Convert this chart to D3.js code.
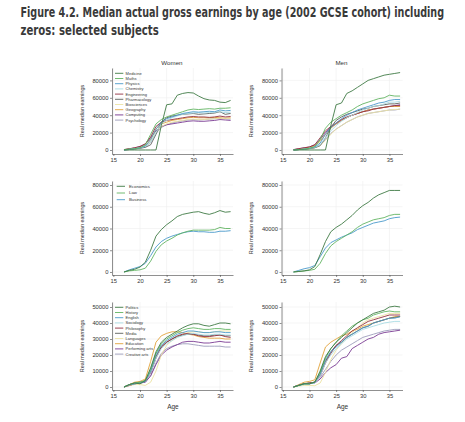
<!DOCTYPE html>
<html>
<head>
<meta charset="utf-8">
<script src="https://cdn.jsdelivr.net/npm/d3@7"></script>
<style>
  body { margin: 0; background: #fff; }
  text { font-family: "Liberation Sans", Arial, sans-serif; fill: #333; }
</style>
</head>
<body>
<div id="chart"></div>
<script>
// ages on the x axis
var ages = [17,18,19,20,21,22,23,24,25,26,27,28,29,30,31,32,33,34,35,36,37];

// row 1: STEM / sciences
var subjectsTop = ["Medicine","Maths","Physics","Chemistry","Engineering","Pharmacology","Biosciences","Geography","Computing","Psychology"];
var womenTop = [
  [0,0,0,0,0,0,0,28000,52000,53000,63000,65000,66000,65500,62000,59000,57500,57000,55000,54500,57000],
  [500,1000,1500,2500,6000,18000,30000,35000,38000,40000,42000,44000,46000,47000,46500,47000,47500,47000,48000,48000,48500],
  [0,800,1500,2500,4500,12000,24000,32000,36000,38000,40000,42000,43000,44000,43500,44000,44500,44000,46000,45000,45500],
  [0,700,1500,2500,4000,9000,20000,30000,34000,37000,39000,41000,42000,42500,43000,42500,43000,43500,44000,43000,43500],
  [500,1500,2500,4000,7000,15000,27000,32000,34000,35000,36000,37000,38000,38500,38000,38000,37500,38000,39000,38000,38500],
  [0,500,1200,2000,3000,6000,18000,32000,37000,39000,40000,41000,41500,42000,41000,41500,42000,42500,44000,41000,42000],
  [0,800,1500,2500,4000,10000,20000,27000,30000,32000,33000,34000,35000,35500,35000,35000,35500,36000,36500,36000,36500],
  [300,1000,2000,3000,5000,12000,24000,30000,32000,34000,35000,36000,37000,37500,37000,37000,37000,37500,37000,36500,37000],
  [300,1200,2500,4000,7000,14000,22000,27000,29000,30000,31000,32000,33000,33500,33000,33000,33500,34000,35000,34500,34000],
  [0,600,1200,2000,3500,9000,19000,26000,29000,31000,32500,33500,34500,35000,34500,35000,35500,36000,36500,36000,35500]
];
var menTop = [
  [0,0,0,0,0,0,0,28000,52000,54000,65000,68000,72000,76000,80000,82000,84000,86000,87000,88000,89000],
  [0,500,1000,2000,4000,12000,25000,32000,36000,40000,43000,46000,50000,53000,55000,57000,59000,60000,63000,62000,62000],
  [0,500,1000,2000,3500,8000,18000,26000,31000,36000,40000,43000,46000,48000,50000,52000,54000,55000,57000,58000,58000],
  [0,500,1000,2000,3000,6000,14000,22000,28000,33000,37000,40000,43000,46000,48000,50000,51000,53000,55000,55000,56000],
  [500,1500,2500,3500,6000,14000,22000,27000,31000,35000,38000,40000,42000,44000,45000,47000,48000,49000,50000,51000,51000],
  [0,500,1000,1500,2500,5000,14000,26000,34000,38000,41000,43000,45000,47000,48000,50000,51000,52000,53000,53000,54000],
  [0,500,1000,1500,2500,5000,11000,18000,24000,28000,32000,35000,38000,40000,42000,43000,44000,45000,46000,46500,47000],
  [300,1000,2000,3000,5000,10000,18000,25000,30000,34000,37000,40000,42000,44000,46000,47000,48000,49000,50000,50000,50000],
  [300,1500,2500,3500,6000,12000,20000,26000,30000,34000,37000,40000,42000,44000,46000,47000,48000,49000,50000,51000,52000],
  [0,500,1000,1800,3000,6000,12000,19000,24000,28000,32000,35000,38000,40000,42000,43000,44000,45000,46000,46000,47000]
];

// row 2: economics, law, business
var subjectsMid = ["Economics","Law","Business"];
var womenMid = [
  [0,1500,2500,4500,9000,20000,33000,39000,43500,47000,51000,53000,54000,55000,55500,54000,53000,54500,56500,55000,55500],
  [0,1000,1500,2000,3500,10000,19000,25000,28500,31000,34000,36000,37500,38500,38500,38500,38500,39000,41000,40000,40000],
  [0,2000,3500,5000,8000,15000,23000,28000,31000,33000,34500,36000,37000,37500,37000,37000,36500,36500,37500,37500,38000]
];
var menMid = [
  [0,500,1000,2000,5000,16000,28000,37000,41000,44000,48000,52000,57000,61000,64000,68000,71000,73000,75000,75000,75000],
  [0,500,1000,1500,2500,8000,17000,24000,28000,31000,34000,37000,41000,44000,46000,48000,49000,50000,52000,53000,53000],
  [0,1500,3000,4000,6000,14000,22000,27000,29500,32000,34000,36000,39000,41000,43000,45000,46000,47000,49000,50000,50500]
];

// row 3: humanities, social sciences, arts
var subjectsLow = ["Politics","History","English","Sociology","Philosophy","Media","Languages","Education","Performing arts","Creative arts"];
var womenLow = [
  [0,1500,2500,2000,4000,12000,22000,28000,31000,33000,35000,37000,38500,39500,39500,38500,38000,39000,40000,40000,39500],
  [0,1500,2500,3000,4000,11000,21000,27000,30000,32000,34000,35500,36500,37000,36500,36000,36000,36500,36500,36000,36000],
  [0,1500,2000,2500,3500,10000,20000,26000,29000,31000,33000,34000,35000,35000,34500,34000,34000,34500,34500,34000,34000],
  [0,1200,2000,2500,3500,9000,18000,24000,27000,29000,31000,32000,33000,33500,33000,32500,32500,33000,33000,32500,32500],
  [0,1000,2000,2500,3500,9000,18000,25000,28000,30000,32000,33000,33500,33000,32000,31500,31500,32000,32500,31500,31000],
  [0,1500,2500,3000,4000,9000,19000,25000,28000,30000,31500,32500,33000,33000,32500,32000,32000,32500,32500,32000,32000],
  [0,800,1500,1500,1000,3000,10000,20000,26000,29000,31000,33000,34000,34500,34500,34000,34000,34500,35000,35000,35000],
  [0,1500,3000,3500,5000,16000,28000,32000,33500,34500,34500,34000,33000,32500,31500,31000,30500,30500,30500,30000,30000],
  [0,1000,2000,2500,3000,7000,14000,20000,23000,25000,26500,28000,28500,28500,28000,27500,27500,28000,28500,28000,28000],
  [0,1000,2000,2500,3000,7000,15000,21000,24000,25500,26500,27000,27000,26500,26000,25500,25500,25500,25500,25000,25000]
];
var menLow = [
  [0,1000,2000,2000,3000,10000,19000,24000,28000,31000,34000,37000,40000,42000,44000,46000,47000,48000,50000,50500,50000],
  [0,1000,2000,2000,3000,9000,18000,24000,28000,32000,35000,38000,40000,42000,43000,45000,46000,47000,47500,47000,47000],
  [0,1000,2000,2000,3000,8000,17000,22000,25000,28000,31000,33000,35000,37000,38000,40000,41000,42000,43000,43000,44000],
  [0,800,1500,2000,2500,7000,15000,20000,24000,27000,30000,32000,34000,36000,37000,38000,39000,40000,40500,41000,41000],
  [0,1000,2000,2500,3000,7000,15000,21000,26000,29000,32000,35000,37000,39000,41000,42000,43000,44000,45000,45000,45000],
  [0,1200,2000,2500,3000,8000,16000,22000,26000,28000,31000,33000,35000,37000,38000,40000,41000,42000,43000,43500,44000],
  [0,500,1000,1000,800,2500,9000,17000,23000,27000,31000,34000,37000,40000,42000,43000,44000,45000,46000,46000,46000],
  [0,1500,3000,3500,4500,15000,25000,28000,30000,32000,33000,35000,36000,38000,39000,40000,41000,42000,43000,44000,44000],
  [0,1000,2000,2000,2500,5000,9000,12000,14000,18000,19000,24000,26000,28000,30000,31000,33000,34000,34500,35000,35500],
  [0,1000,2000,2500,3000,6000,11000,16000,20000,23000,25000,27000,29000,31000,32000,33000,34000,35000,35500,36000,36000]
];

var xTicks = [15,20,25,30,35];
var yTicksBig = [0,20000,40000,60000,80000];
var yTicksSmall = [0,10000,20000,30000,40000,50000];

var palette = ["#3f7a45","#62b462","#4b9acb","#a9dbe3","#93303f","#5b5f5b","#ece3a4","#e2a33b","#7a3b93","#9c9cba"];

var width = 465, height = 422;
var svg = d3.select("#chart").append("svg")
    .attr("width", width).attr("height", height);

// title: condensed bold, squeezed to the width seen in the reference
var titleLines = [
  {text: "Figure 4.2. Median actual gross earnings by age (2002 GCSE cohort) including", y: 16.5, w: 424},
  {text: "zeros: selected subjects", y: 34.5, w: 138.5}
];
titleLines.forEach(function(t) {
  var g = svg.append("g");
  var txt = g.append("text").attr("x", 0).attr("y", 0)
    .style("font-family", "'Liberation Sans Narrow','DejaVu Sans Condensed',Roboto,sans-serif")
    .style("font-weight", "bold").style("font-size", "13.5px").style("fill", "#3a3a3a")
    .text(t.text);
  var natural = txt.node().getComputedTextLength();
  g.attr("transform", "translate(20.5," + t.y + ") scale(" + (t.w / natural) + ",1)");
});

// panel layout
var cols = [{x0: 112, x1: 233}, {x0: 281.5, x1: 402.5}];
var rows = [
  {top: 68,  bottom: 154, domain: [-4600, 94250], ticks: yTicksBig,   names: subjectsTop, data: [womenTop, menTop]},
  {top: 181, bottom: 275, domain: [-2760, 83680], ticks: yTicksBig,   names: subjectsMid, data: [womenMid, menMid]},
  {top: 302, bottom: 390, domain: [-1875, 53125], ticks: yTicksSmall, names: subjectsLow, data: [womenLow, menLow]}
];

rows.forEach(function(row, ri) {
  cols.forEach(function(col, ci) {
    var x = d3.scaleLinear().domain([14.75, 37.45]).range([col.x0, col.x1]);
    var y = d3.scaleLinear().domain(row.domain).range([row.bottom, row.top]);
    var g = svg.append("g");

    // faint grid
    g.append("g").selectAll("line").data(row.ticks).enter().append("line")
      .attr("x1", col.x0).attr("x2", col.x1)
      .attr("y1", function(d){ return y(d); }).attr("y2", function(d){ return y(d); })
      .attr("stroke", "#eeeeee").attr("stroke-width", 0.6);
    g.append("g").selectAll("line").data(xTicks).enter().append("line")
      .attr("x1", function(d){ return x(d); }).attr("x2", function(d){ return x(d); })
      .attr("y1", row.top).attr("y2", row.bottom)
      .attr("stroke", "#eeeeee").attr("stroke-width", 0.6);

    // axes
    var yAxis = g.append("g").attr("transform", "translate(" + col.x0 + ",0)")
      .call(d3.axisLeft(y).tickValues(row.ticks).tickSize(2).tickSizeOuter(0).tickPadding(1.5).tickFormat(d3.format("d")));
    var xAxis = g.append("g").attr("transform", "translate(0," + row.bottom + ")")
      .call(d3.axisBottom(x).tickValues(xTicks).tickSize(2).tickSizeOuter(0).tickPadding(1.5));
    [yAxis, xAxis].forEach(function(a) {
      a.selectAll("path,line").attr("stroke", "#444").attr("stroke-width", 0.6);
      a.selectAll("text").style("font-size", "5.8px").style("fill", "#333")
        .style("font-family", "'Liberation Sans',Arial,sans-serif");
    });

    // y title
    g.append("text")
      .attr("transform", "translate(" + (col.x0 - 28.5) + "," + ((row.top + row.bottom) / 2) + ") rotate(-90)")
      .attr("text-anchor", "middle").style("font-size", "5.4px")
      .text("Real median earnings");

    // lines
    var line = d3.line()
      .x(function(d, i){ return x(ages[i]); })
      .y(function(d){ return y(d); });
    var series = row.data[ci];
    g.append("g").selectAll("path").data(series.slice().reverse()).enter().append("path")
      .attr("d", line)
      .attr("fill", "none")
      .attr("stroke", function(d, i){ return palette[series.length - 1 - i]; })
      .attr("stroke-width", 0.9);

    // legend only in women panels
    if (ci === 0) {
      var step = row.names.length > 3 ? 5.2 : 6.7;
      var lx = ri === 1 ? 116.7 : 115;
      var leg = g.append("g").selectAll("g").data(row.names).enter().append("g")
        .attr("transform", function(d, i){ return "translate(" + lx + "," + (row.top + 5.3 + i * step) + ")"; });
      leg.append("line").attr("x1", 0).attr("x2", 8.3).attr("y1", 0).attr("y2", 0)
        .attr("stroke", function(d, i){ return palette[i]; }).attr("stroke-width", 0.9);
      leg.append("text").attr("x", ri === 1 ? 12.3 : 10.6).attr("y", 1.4)
        .style("font-size", ri === 1 ? "4.3px" : "4px")
        .text(function(d){ return d; });
    }

    // panel titles and x titles
    if (ri === 0) {
      g.append("text").attr("x", (x(15) + x(37)) / 2).attr("y", 65).attr("text-anchor", "middle")
        .style("font-size", "6.2px").text(ci === 0 ? "Women" : "Men");
    }
    if (ri === 2) {
      g.append("text").attr("x", (x(15) + x(37)) / 2 + 1).attr("y", 409).attr("text-anchor", "middle")
        .style("font-size", "6.5px").text("Age");
    }
  });
});
</script>
</body>
</html>
